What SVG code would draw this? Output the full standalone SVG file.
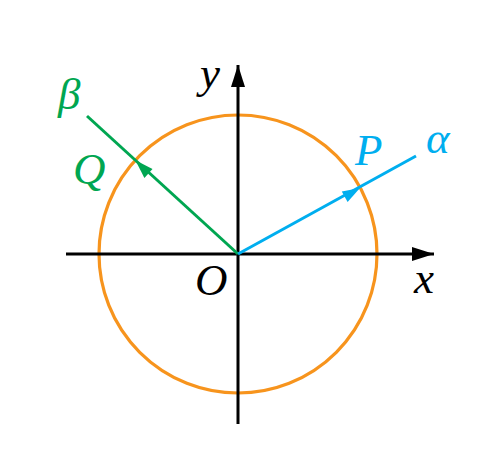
<svg xmlns="http://www.w3.org/2000/svg" width="502" height="462" viewBox="0 0 502 462">
<style>
.lbl{font-family:"Liberation Serif","Times New Roman",serif;font-style:italic;font-size:45px}
.ax{stroke:#000;stroke-width:3;fill:none}
</style>
<defs>
<marker id="ah" markerWidth="24" markerHeight="14" refX="22" refY="7" orient="auto" markerUnits="userSpaceOnUse">
<path d="M0,0 L22,7 L0,14 Z" fill="#000"/>
</marker>
</defs>
<rect width="502" height="462" fill="#fff"/>
<g id="circle"><circle cx="238" cy="254" r="139" fill="none" stroke="#F7941D" stroke-width="3.2"/></g>
<g id="connectors">
<line class="ax" x1="66" y1="254" x2="434" y2="254" marker-end="url(#ah)"/>
<line class="ax" x1="238" y1="424" x2="238" y2="65" marker-end="url(#ah)"/>
<line x1="238" y1="254" x2="87" y2="116" stroke="#00A651" stroke-width="3"/>
<path d="M135.4,160.3 L152.5,169.0 L144.4,177.9 Z" fill="#00A651"/>
<line x1="238" y1="254" x2="416" y2="156" stroke="#00AEEF" stroke-width="3"/>
<path d="M360,188 L347.6,202.1 L341.8,191.6 Z" fill="#00AEEF"/>
</g>
<g id="labels">
<text class="lbl" x="200" y="88">y</text>
<text class="lbl" x="414" y="293">x</text>
<text class="lbl" x="195" y="295">O</text>
<text class="lbl" x="58" y="109" fill="#00A651">β</text>
<text class="lbl" x="73" y="184" fill="#00A651">Q</text>
<text class="lbl" x="355" y="165" fill="#00AEEF">P</text>
<text class="lbl" x="426" y="153" fill="#00AEEF">α</text>
</g>
</svg>
